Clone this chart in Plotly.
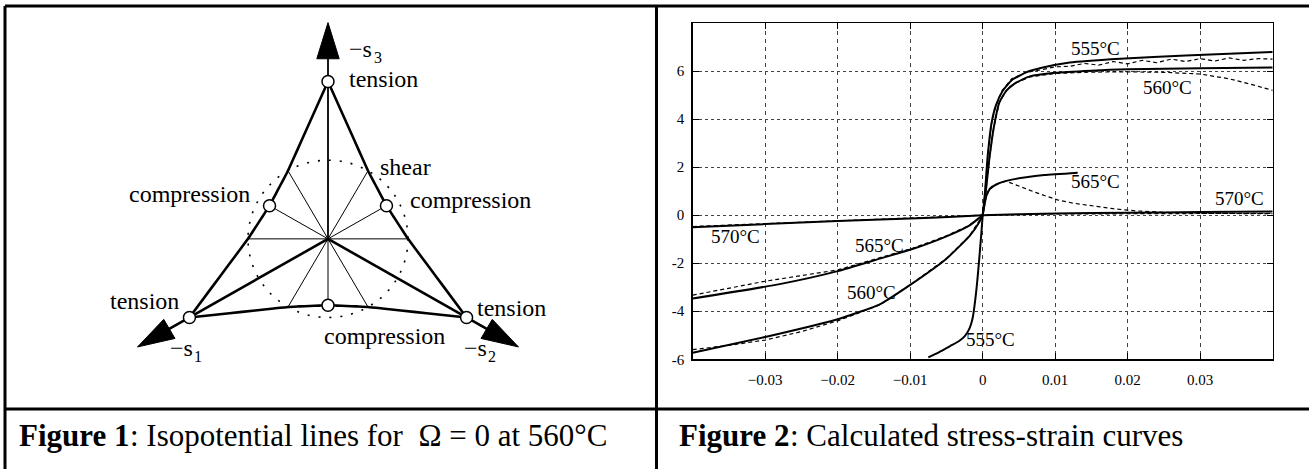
import math
import plotly.graph_objects as go

# ---------------- Figure 2 data (strain, stress) ----------------
x555_up = [0, 0.0003, 0.0007, 0.0012, 0.0018, 0.0027, 0.004, 0.006, 0.008, 0.012, 0.019, 0.028, 0.04]
y555_up = [0, 0.9, 2.5, 3.8, 4.55, 5.15, 5.62, 5.95, 6.13, 6.36, 6.52, 6.65, 6.8]
x555_up_d = [0, 0.0003, 0.0007, 0.0012, 0.0018, 0.0027, 0.004, 0.006, 0.008, 0.01, 0.012, 0.014, 0.016,
             0.018, 0.02, 0.022, 0.024, 0.026, 0.028, 0.03, 0.032, 0.034, 0.036, 0.038, 0.04]
y555_up_d = [0, 0.9, 2.5, 3.8, 4.55, 5.2, 5.68, 5.95, 6.05, 6.18, 6.2, 6.32, 6.25, 6.4, 6.3, 6.45,
             6.35, 6.5, 6.4, 6.52, 6.42, 6.55, 6.45, 6.52, 6.5]
x555_lo = [-0.0075, -0.006, -0.0045, -0.0033, -0.0025, -0.0018, -0.0014, -0.0011, -0.0008, -0.0005,
           -0.0002, 0]
y555_lo = [-5.92, -5.7, -5.45, -5.25, -5.05, -4.7, -4.3, -3.7, -2.9, -1.9, -0.8, 0]

x560_up = [0, 0.0004, 0.0009, 0.0015, 0.0023, 0.0033, 0.0045, 0.0065, 0.01, 0.015, 0.02, 0.03, 0.04]
y560_up = [0, 0.9, 2.3, 3.6, 4.7, 5.2, 5.5, 5.78, 5.93, 6.02, 6.08, 6.12, 6.15]
x560_up_d = [0, 0.0004, 0.0009, 0.0015, 0.0023, 0.0033, 0.0045, 0.0065, 0.01, 0.015, 0.02, 0.025,
             0.03, 0.034, 0.037, 0.04]
y560_up_d = [0, 0.9, 2.3, 3.6, 4.7, 5.2, 5.5, 5.76, 5.9, 5.96, 5.97, 5.95, 5.88, 5.68, 5.45, 5.2]
x560_lo = [-0.04, -0.03, -0.02, -0.0142, -0.01, -0.005, -0.0018, -0.0005, 0]
y560_lo = [-5.73, -5.07, -4.33, -3.71, -2.9, -1.81, -0.86, -0.3, 0]
x560_lo_d = [-0.04, -0.035, -0.03, -0.025, -0.02, -0.0142, -0.01, -0.005, -0.0018, 0]
y560_lo_d = [-5.6, -5.42, -5.2, -4.85, -4.4, -3.74, -2.9, -1.8, -0.85, 0]

x565_up = [0, 0.0002, 0.0005, 0.001, 0.002, 0.0037, 0.006, 0.0085, 0.0131]
y565_up = [0, 0.35, 0.8, 1.1, 1.3, 1.46, 1.58, 1.67, 1.77]
x565_up_d = [0, 0.0002, 0.0005, 0.001, 0.002, 0.0032, 0.005, 0.007, 0.0085, 0.0103, 0.0125, 0.0154,
             0.018, 0.0211, 0.025, 0.03, 0.035, 0.04]
y565_up_d = [0, 0.35, 0.8, 1.1, 1.3, 1.42, 1.2, 0.98, 0.82, 0.64, 0.5, 0.37, 0.27, 0.18, 0.12, 0.08, 0.07, 0.06]
x565_lo = [-0.04, -0.028, -0.02, -0.0142, -0.0096, -0.005, -0.0018, -0.0005, 0]
y565_lo = [-3.47, -2.87, -2.33, -1.81, -1.4, -0.88, -0.42, -0.12, 0]
x565_lo_d = [-0.04, -0.03, -0.02, -0.014, -0.0096, -0.005, -0.0018, 0]
y565_lo_d = [-3.33, -2.75, -2.28, -1.77, -1.37, -0.86, -0.41, 0]

x570 = [-0.04, -0.03, -0.02, -0.01, -0.004, 0, 0.01, 0.02, 0.03, 0.04]
y570 = [-0.5, -0.37, -0.245, -0.14, -0.06, 0, 0.07, 0.1, 0.13, 0.15]
x570_d = [-0.04, -0.03, -0.02, -0.01, -0.004, 0, 0.01, 0.02, 0.03, 0.04]
y570_d = [-0.47, -0.35, -0.23, -0.12, -0.05, 0, 0.05, 0.07, 0.08, 0.08]

x_tickvals = [-0.03, -0.02, -0.01, 0, 0.01, 0.02, 0.03]
x_ticktext = ["\u22120.03", "\u22120.02", "\u22120.01", "0", "0.01", "0.02", "0.03"]
y_tickvals = [-6, -4, -2, 0, 2, 4, 6]
y_ticktext = ["-6", "-4", "-2", "0", "2", "4", "6"]

curve_labels = ["555\u00b0C", "560\u00b0C", "565\u00b0C", "570\u00b0C",
                "570\u00b0C", "565\u00b0C", "560\u00b0C", "555\u00b0C"]
curve_label_x = [0.0155, 0.0255, 0.0155, 0.0354, -0.0341, -0.0143, -0.0154, 0.0011]
curve_label_y = [6.94, 5.31, 1.39, 0.69, -0.9, -1.27, -3.2, -5.16]

# ---------------- Figure 1 data (deviatoric plane schematic) ----------------
tension_angle_deg = [90, 210, 330]
compression_angle_deg = [150, 270, 30]
tension_r = 1.0
compression_r = 0.422
shear_r = 0.5
arrow_tip_r = 1.375
arrow_len = 0.23
arrow_halfwidth = 0.07
side_phi_deg = [0, 7.5, 15, 22.5, 30, 37.5, 45, 52.5, 60, 67.5, 75, 82.5, 90, 97.5, 105, 112.5, 120]
side_r = [1.0, 0.777, 0.644, 0.558, 0.5, 0.465, 0.442, 0.428, 0.422, 0.428, 0.442, 0.465, 0.5,
          0.558, 0.644, 0.777, 1.0]
thin_angle_deg = [0, 60, 120, 180, 240, 300, 30, 150, 270]
thin_r = [0.5, 0.5, 0.5, 0.5, 0.5, 0.5, 0.422, 0.422, 0.422]

diagram_labels = ["tension", "shear", "compression", "compression", "tension", "tension", "compression"]
diagram_label_x = [0.119, 0.3125, -0.475, 0.5, -1.375, 0.919, -0.0375]
diagram_label_y = [1.015, 0.455, 0.285, 0.25, -0.395, -0.44, -0.62]
diagram_label_anchor = ["left", "left", "right", "left", "left", "left", "left"]
axis_names = ["\u2212s", "\u2212s", "\u2212s"]
axis_subs = ["3", "1", "2"]
axis_name_x = [0.119, -1.0, 0.8375]
axis_name_y = [1.21, -0.695, -0.695]
axis_sub_x = [0.275, -0.85, 0.985]
axis_sub_y = [1.155, -0.75, -0.75]

captions_bold = ["Figure 1", "Figure 2"]
captions_rest = [": Isopotential lines for \u00a0\u03a9 = 0 at 560\u00b0C", ": Calculated stress-strain curves"]

W, H = 1309, 469
SERIF = "Liberation Serif, Times New Roman, serif"
CAP_SIZE = 31


def pol(r, a_deg):
    a = math.radians(a_deg)
    return r * math.cos(a), r * math.sin(a)


fig = go.Figure()

# ---- Figure 1 traces (axes x / y, 160 px per unit) ----
for k in range(3):
    xs, ys = [], []
    for phi, r in zip(side_phi_deg, side_r):
        px, py = pol(r, tension_angle_deg[k] + phi)
        xs.append(px)
        ys.append(py)
    fig.add_trace(go.Scatter(x=xs, y=ys, mode="lines", line=dict(color="black", width=2.6, shape="spline", smoothing=0.4),
                             hoverinfo="skip", showlegend=False, xaxis="x", yaxis="y"))

xs, ys = [], []
for a, r in zip(thin_angle_deg, thin_r):
    px, py = pol(r, a)
    xs += [0, px, None]
    ys += [0, py, None]
fig.add_trace(go.Scatter(x=xs, y=ys, mode="lines", line=dict(color="black", width=1.0),
                         hoverinfo="skip", showlegend=False, xaxis="x", yaxis="y"))

shaft_w = [1.8, 2.6, 2.6]
for a, w in zip(tension_angle_deg, shaft_w):
    px, py = pol(arrow_tip_r - arrow_len + 0.02, a)
    fig.add_trace(go.Scatter(x=[0, px], y=[0, py], mode="lines", line=dict(color="black", width=w),
                             hoverinfo="skip", showlegend=False, xaxis="x", yaxis="y"))

for a in tension_angle_deg:
    tx, ty = pol(arrow_tip_r, a)
    bx, by = pol(arrow_tip_r - arrow_len, a)
    nx, ny = -math.sin(math.radians(a)), math.cos(math.radians(a))
    fig.add_trace(go.Scatter(x=[tx, bx + arrow_halfwidth * nx, bx - arrow_halfwidth * nx, tx],
                             y=[ty, by + arrow_halfwidth * ny, by - arrow_halfwidth * ny, ty],
                             mode="lines", fill="toself", fillcolor="black", line=dict(color="black", width=1),
                             hoverinfo="skip", showlegend=False, xaxis="x", yaxis="y"))

mx, my = [], []
for a in tension_angle_deg:
    px, py = pol(tension_r, a)
    mx.append(px)
    my.append(py)
for a in compression_angle_deg:
    px, py = pol(compression_r, a)
    mx.append(px)
    my.append(py)
fig.add_trace(go.Scatter(x=mx, y=my, mode="markers",
                         marker=dict(size=12, color="white", line=dict(color="black", width=1.5)),
                         hoverinfo="skip", showlegend=False, xaxis="x", yaxis="y"))

# ---- Figure 2 traces ----
solid = [(x555_up, y555_up, 0.5), (x555_lo, y555_lo, 0.8), (x560_up, y560_up, 0.5),
         (x560_lo, y560_lo, 0.5), (x565_up, y565_up, 0.5), (x565_lo, y565_lo, 0.5),
         (x570, y570, 0.5)]
dashed = [(x555_up_d, y555_up_d), (x560_up_d, y560_up_d), (x560_lo_d, y560_lo_d),
          (x565_up_d, y565_up_d), (x565_lo_d, y565_lo_d), (x570_d, y570_d)]
for xs, ys in dashed:
    fig.add_trace(go.Scatter(x=xs, y=ys, mode="lines", line=dict(color="black", width=1.2, dash="4px,3px"),
                             hoverinfo="skip", showlegend=False, xaxis="x2", yaxis="y2"))
for xs, ys, sm in solid:
    fig.add_trace(go.Scatter(x=xs, y=ys, mode="lines", line=dict(color="black", width=2.0, shape="spline", smoothing=sm),
                             hoverinfo="skip", showlegend=False, xaxis="x2", yaxis="y2"))

annotations = []
for t, x, y in zip(curve_labels, curve_label_x, curve_label_y):
    annotations.append(dict(text=t, x=x, y=y, xref="x2", yref="y2", showarrow=False,
                            font=dict(family=SERIF, size=19, color="black")))
for t, x, y, anc in zip(diagram_labels, diagram_label_x, diagram_label_y, diagram_label_anchor):
    annotations.append(dict(text=t, x=x, y=y, xref="x", yref="y", showarrow=False, xanchor=anc,
                            font=dict(family=SERIF, size=24, color="black")))
for t, x, y in zip(axis_names, axis_name_x, axis_name_y):
    annotations.append(dict(text=t, x=x, y=y, xref="x", yref="y", showarrow=False, xanchor="left",
                            font=dict(family=SERIF, size=24, color="black")))
for t, x, y in zip(axis_subs, axis_sub_x, axis_sub_y):
    annotations.append(dict(text=t, x=x, y=y, xref="x", yref="y", showarrow=False, xanchor="left",
                            font=dict(family=SERIF, size=16, color="black")))

cap_x_px = [17, 677]
bold_w = 3.583 * CAP_SIZE
for tb, tr, xp in zip(captions_bold, captions_rest, cap_x_px):
    annotations.append(dict(text=tb, x=xp / W, y=1 - 443 / H, xref="paper", yref="paper", showarrow=False,
                            xanchor="left", yanchor="middle",
                            font=dict(family=SERIF, size=CAP_SIZE, color="black", weight="bold")))
    annotations.append(dict(text=tr, x=(xp + bold_w) / W, y=1 - 443 / H, xref="paper", yref="paper",
                            showarrow=False, xanchor="left", yanchor="middle",
                            font=dict(family=SERIF, size=CAP_SIZE, color="black")))

shapes = [
    dict(type="circle", xref="x", yref="y", x0=-shear_r, y0=-shear_r, x1=shear_r, y1=shear_r,
         line=dict(color="black", width=1.6, dash="2px,9px"), layer="below"),
    dict(type="line", xref="paper", yref="paper", x0=5 / W, x1=1.02, y0=1 - 6 / H, y1=1 - 6 / H,
         line=dict(color="black", width=3)),
    dict(type="line", xref="paper", yref="paper", x0=5 / W, x1=5 / W, y0=1 - 6 / H, y1=-0.02,
         line=dict(color="black", width=3)),
    dict(type="line", xref="paper", yref="paper", x0=656.5 / W, x1=656.5 / W, y0=1 - 6 / H, y1=-0.02,
         line=dict(color="black", width=3)),
    dict(type="line", xref="paper", yref="paper", x0=5 / W, x1=1.02, y0=1 - 416 / H, y1=1 - 416 / H,
         line=dict(color="black", width=3)),
]

fig.update_layout(
    width=W, height=H, margin=dict(l=0, r=0, t=0, b=0),
    paper_bgcolor="white", plot_bgcolor="white", showlegend=False,
    font=dict(family=SERIF, color="black"),
    xaxis=dict(domain=[0, 655 / W], range=[(0 - 328) / 160, (655 - 328) / 160], visible=False, fixedrange=True),
    yaxis=dict(domain=[0, 1], range=[(243 - 469) / 160, 243 / 160], visible=False, fixedrange=True),
    xaxis2=dict(domain=[692.7 / W, 1272.7 / W], range=[-0.04, 0.04], anchor="y2",
                tickvals=x_tickvals, ticktext=x_ticktext, ticks="inside", ticklen=6, tickcolor="black",
                showline=True, linecolor="black", linewidth=1.5, mirror="ticks",
                showgrid=True, gridcolor="#444", gridwidth=1, griddash="4px,4px", zeroline=False,
                tickfont=dict(family=SERIF, size=15, color="black"), ticklabelstandoff=6),
    yaxis2=dict(domain=[1 - 365.5 / H, 1 - 23.5 / H], range=[-6, 8], anchor="x2",
                tickvals=y_tickvals, ticktext=y_ticktext, ticks="inside", ticklen=6, tickcolor="black",
                showline=True, linecolor="black", linewidth=1.5, mirror="ticks",
                showgrid=True, gridcolor="#444", gridwidth=1, griddash="3px,3px", zeroline=False,
                tickfont=dict(family=SERIF, size=15, color="black"), ticklabelstandoff=4),
    annotations=annotations, shapes=shapes,
)

fig.write_html("out.html", config={"displayModeBar": False, "staticPlot": True},
               post_script="document.body.style.margin='0';document.body.style.padding='0';")
